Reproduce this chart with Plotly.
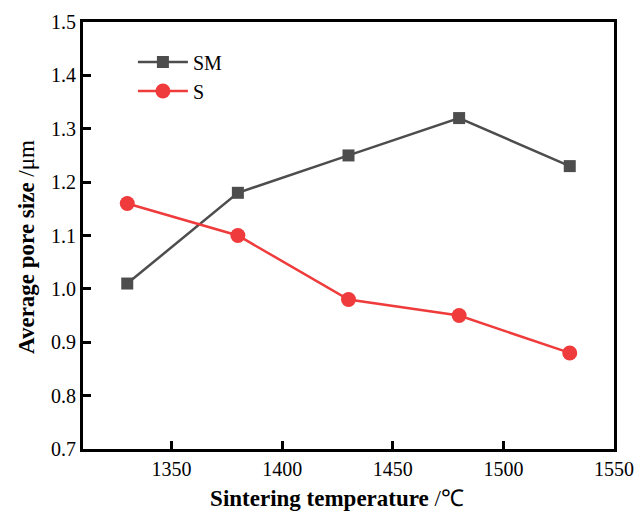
import plotly.graph_objects as go

temps = [1330, 1380, 1430, 1480, 1530]
sm_vals = [1.01, 1.18, 1.25, 1.32, 1.23]
s_vals = [1.16, 1.10, 0.98, 0.95, 0.88]

fig = go.Figure()
fig.add_trace(go.Scatter(x=temps, y=sm_vals, name="SM", mode="lines+markers",
                         line=dict(color="#4d4d4d", width=2.5),
                         marker=dict(symbol="square", size=12, color="#4d4d4d")))
fig.add_trace(go.Scatter(x=temps, y=s_vals, name="S", mode="lines+markers",
                         line=dict(color="#ef3b3b", width=2.5),
                         marker=dict(symbol="circle", size=15, color="#ef3b3b")))

font_family = "Liberation Serif, Times New Roman, serif"
pad = "&nbsp;" * 4
fig.update_layout(
    template="none",
    width=628, height=503,
    margin=dict(l=75, r=22, t=14, b=62, autoexpand=False),
    paper_bgcolor="white", plot_bgcolor="white",
    font=dict(family=font_family, size=20, color="black"),
    showlegend=True,
    legend=dict(x=0.094, y=0.952, xanchor="left", yanchor="top",
                bgcolor="rgba(0,0,0,0)", font=dict(size=20),
                tracegroupgap=0, itemwidth=50),
    xaxis=dict(range=[1310, 1550], tickvals=[1350, 1400, 1450, 1500, 1550],
               ticks="inside", ticklen=8, tickwidth=3, tickcolor="black",
               showline=True, linecolor="black", linewidth=3, mirror=True,
               showgrid=False, zeroline=False, automargin=False,
               title=dict(text="<b>Sintering temperature</b> /℃" + pad, font=dict(size=23), standoff=21)),
    yaxis=dict(range=[0.7, 1.5], dtick=0.1, tickformat=".1f",
               ticks="inside", ticklen=8, tickwidth=3, tickcolor="black",
               showline=True, linecolor="black", linewidth=3, mirror=True,
               showgrid=False, zeroline=False, automargin=False,
               title=dict(text="<b>Average pore size</b> /μm" + pad, font=dict(size=23), standoff=10)),
)
fig.write_html("out.html")
